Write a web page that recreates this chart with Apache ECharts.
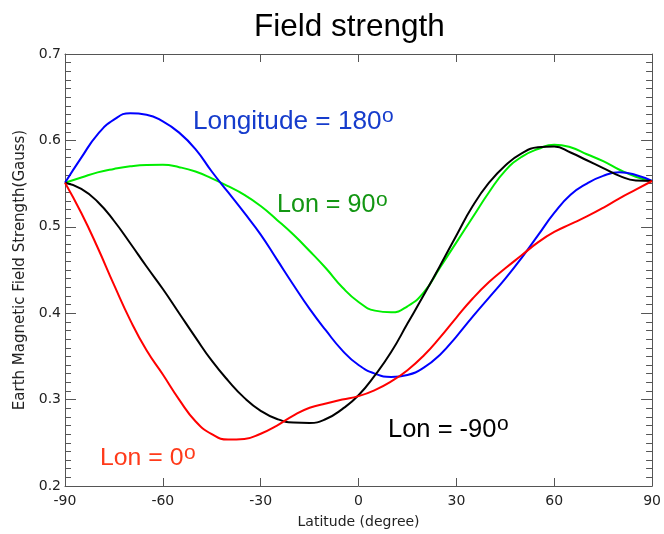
<!DOCTYPE html>
<html>
<head>
<meta charset="utf-8">
<script src="https://cdn.jsdelivr.net/npm/echarts@6/dist/echarts.min.js"></script>
<style>html,body{margin:0;padding:0;background:#fff}#c{width:664px;height:534px}</style>
</head>
<body>
<div id="c"></div>
<script>
// Latitude sample points (degree)
const latitudes = [-90, -85, -80, -75, -70, -65, -60, -55, -50, -45, -40, -35, -30, -25, -20, -15, -10, -5, 0,
  5, 10, 15, 20, 25, 30, 35, 40, 45, 50, 55, 60, 65, 70, 75, 80, 85, 90];

// Longitude = 180 (blue)
const valLon180 = [0.551, 0.580, 0.607, 0.624, 0.6315, 0.6298, 0.622, 0.609, 0.590, 0.564, 0.540, 0.516, 0.491, 0.462, 0.433, 0.405, 0.380, 0.357, 0.340,
  0.330, 0.3262, 0.3285, 0.337, 0.352, 0.373, 0.396, 0.418, 0.440, 0.464, 0.490, 0.516, 0.537, 0.550, 0.559, 0.563, 0.560, 0.553];

// Lon = 90 (green)
const valLon90 = [0.551, 0.557, 0.563, 0.567, 0.570, 0.5715, 0.5717, 0.569, 0.564, 0.556, 0.547, 0.537, 0.524, 0.508, 0.491, 0.472, 0.452, 0.430, 0.413,
  0.403, 0.401, 0.408, 0.424, 0.453, 0.482, 0.511, 0.540, 0.565, 0.581, 0.590, 0.595, 0.592, 0.584, 0.576, 0.566, 0.558, 0.553];

// Lon = -90 (black)
const valLonM90 = [0.551, 0.544, 0.529, 0.507, 0.481, 0.454, 0.428, 0.400, 0.372, 0.345, 0.322, 0.302, 0.287, 0.2775, 0.2735, 0.273, 0.2775, 0.289, 0.305,
  0.328, 0.355, 0.388, 0.421, 0.455, 0.490, 0.524, 0.551, 0.571, 0.585, 0.592, 0.593, 0.586, 0.577, 0.568, 0.559, 0.5535, 0.553];

// Lon = 0 (red)
const valLon0 = [0.551, 0.516, 0.476, 0.433, 0.392, 0.357, 0.329, 0.300, 0.275, 0.260, 0.2537, 0.2545, 0.2605, 0.270, 0.2815, 0.2905, 0.2955, 0.300, 0.304,
  0.311, 0.321, 0.334, 0.351, 0.372, 0.395, 0.417, 0.436, 0.452, 0.467, 0.482, 0.494, 0.503, 0.512, 0.522, 0.533, 0.543, 0.553];

// Axis ticks
const xTicks = [-90, -60, -30, 0, 30, 60, 90];
const yTicks = [0.2, 0.3, 0.4, 0.5, 0.6, 0.7];

const pairs = ys => latitudes.map((x, i) => [x, ys[i]]);

const chart = echarts.init(document.getElementById('c'), null, {renderer: 'canvas'});
const axisCol = '#555';
const labFont = 'DejaVu Sans';
const baseX = {
  type: 'value', min: xTicks[0], max: xTicks[xTicks.length - 1], interval: 30,
  axisLine: {show: true, onZero: false, lineStyle: {color: axisCol, width: 1}},
  axisTick: {show: true, inside: true, length: 8, lineStyle: {color: axisCol}},
  splitLine: {show: false}
};
const baseY = {
  type: 'value', min: yTicks[0], max: yTicks[yTicks.length - 1], interval: 0.1,
  axisLine: {show: true, onZero: false, lineStyle: {color: axisCol, width: 1}},
  axisTick: {show: true, inside: true, length: 11, lineStyle: {color: axisCol}},
  minorTick: {show: true, splitNumber: 10, length: 6, lineStyle: {color: axisCol}},
  splitLine: {show: false}
};
const lineSeries = (name, data, color) => ({
  name, type: 'line', data, smooth: 0.5, showSymbol: false, symbol: 'none',
  lineStyle: {color, width: 2}, xAxisIndex: 0, yAxisIndex: 0, z: 3
});

const supFont = '21px "Liberation Sans", Arial, sans-serif';
function lbl(text, size, x, y, color, supX) {
  return [
    {type: 'text', left: x, top: y, style: {text, font: size + 'px "Liberation Sans", Arial, sans-serif', fill: color}, z: 10},
    {type: 'text', left: supX, top: y - 3, style: {text: 'o', font: supFont, fill: color}, z: 10}
  ];
}

chart.setOption({
  animation: false,
  backgroundColor: '#fff',
  title: {
    text: 'Field strength', left: 249, top: 6,
    textStyle: {fontFamily: 'Liberation Sans', fontSize: 31.5, fontWeight: 'normal', color: '#000'}
  },
  grid: {left: 65, right: 11, top: 54, bottom: 47, containLabel: false},
  xAxis: [
    Object.assign({}, baseX, {
      position: 'bottom',
      axisLabel: {show: true, color: '#222', fontFamily: labFont, fontSize: 14, margin: 8},
      name: 'Latitude (degree)', nameLocation: 'middle', nameGap: 29,
      nameTextStyle: {color: '#222', fontFamily: labFont, fontSize: 14}
    }),
    Object.assign({}, baseX, {position: 'top', axisLabel: {show: false}})
  ],
  yAxis: [
    Object.assign({}, baseY, {
      position: 'left',
      axisLabel: {show: true, color: '#222', fontFamily: labFont, fontSize: 14, margin: 4,
        formatter: v => v.toFixed(1)},
      name: 'Earth Magnetic Field Strength(Gauss)', nameLocation: 'middle', nameRotate: 90, nameGap: 37,
      nameTextStyle: {color: '#222', fontFamily: labFont, fontSize: 15}
    }),
    Object.assign({}, baseY, {position: 'right', axisLabel: {show: false}})
  ],
  series: [
    lineSeries('Lon = 90', pairs(valLon90), '#00ee00'),
    lineSeries('Longitude = 180', pairs(valLon180), '#0000ff'),
    lineSeries('Lon = -90', pairs(valLonM90), '#000000'),
    lineSeries('Lon = 0', pairs(valLon0), '#ff0000')
  ],
  graphic: [].concat(
    lbl('Longitude = 180', 26.2, 193, 109, '#163ccc', 382),
    lbl('Lon = 90', 25.1, 277, 193, '#139613', 376),
    lbl('Lon = -90', 25.5, 388, 417, '#000000', 497),
    lbl('Lon = 0', 24.8, 100, 446, '#ff3a1a', 184)
  )
});
</script>
</body>
</html>
